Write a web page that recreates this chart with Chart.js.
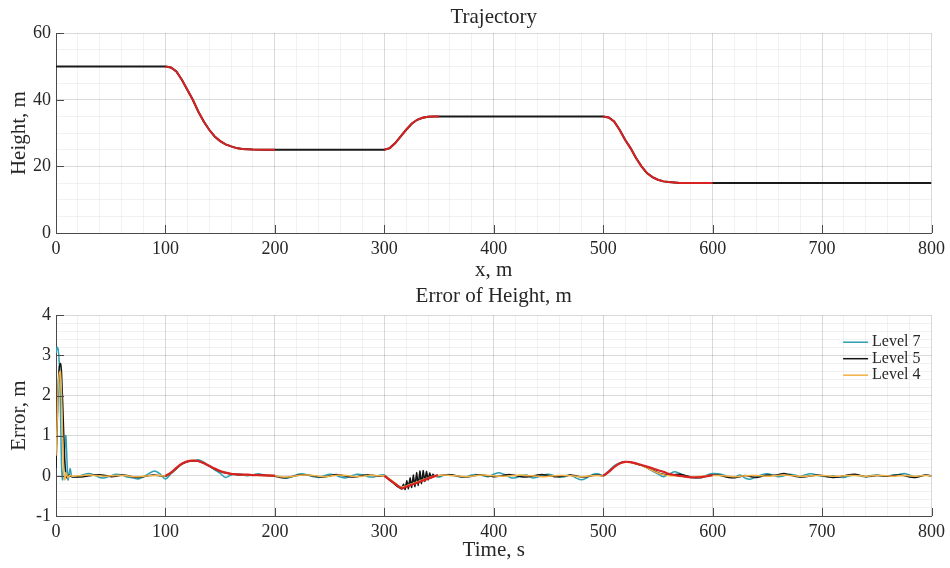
<!DOCTYPE html>
<html>
<head>
<meta charset="utf-8">
<script src="https://cdn.jsdelivr.net/npm/chart.js@4.4.1/dist/chart.umd.min.js"></script>
<style>
  body { margin: 0; background: #fff; }
  .box { position: relative; width: 950px; }
  #topBox { height: 283px; }
  #bottomBox { height: 285px; }
</style>
</head>
<body>
<div class="box" id="topBox"><canvas id="trajectoryChart"></canvas></div>
<div class="box" id="bottomBox"><canvas id="errorChart"></canvas></div>
<script>
// ---- trajectory (x, m -> height, m) ----
const flatStartX = [0, 100], flatStartY = [50, 50];
const drop1X = [100, 105, 110, 115, 120, 125, 130, 135, 140, 145, 150, 155, 160, 165, 170, 180, 190, 200];
const drop1Y = [50, 49.7, 48.5, 46, 43, 40, 36.5, 33.5, 31, 29, 27.6, 26.6, 26, 25.5, 25.2, 25.05, 25, 25];
const rise2X = [300, 305, 310, 315, 320, 325, 330, 335, 340, 345, 350];
const rise2Y = [25, 25.5, 27, 29, 31, 32.8, 34, 34.6, 34.9, 35, 35];
const drop3X = [500, 505, 510, 515, 520, 525, 530, 535, 540, 545, 550, 555, 560, 570, 580, 590, 600];
const drop3Y = [35, 34.7, 33.5, 31, 28, 25.5, 22.5, 20, 18, 16.8, 16, 15.5, 15.3, 15.05, 15, 15, 15];
const flatEndX = [800], flatEndY = [15];

// ---- height error (time, s -> error, m) ----
const errTime = [
  0, 1, 2, 3, 4, 5, 6, 7, 8, 9, 10, 11, 12, 13, 14, 15,
  20, 25, 30, 35, 40, 45, 50, 55, 60, 65, 70, 75, 80, 85, 90, 95, 100,
  105, 110, 115, 120, 125, 130, 135, 140, 145, 150, 155, 160, 165, 170, 175, 180, 185, 190, 195, 200,
  205, 210, 215, 220, 225, 230, 235, 240, 245, 250, 255, 260, 265, 270, 275, 280, 285, 290, 295, 300,
  305, 310, 315, 320, 325, 330, 335, 340, 345, 350,
  355, 360, 365, 370, 375, 380, 385, 390, 395, 400, 405, 410, 415, 420, 425, 430, 435, 440, 445, 450,
  455, 460, 465, 470, 475, 480, 485, 490, 495, 500,
  505, 510, 515, 520, 525, 530, 535, 540, 545, 550, 555, 560, 565, 570, 575, 580, 585, 590, 595, 600,
  605, 610, 615, 620, 625, 630, 635, 640, 645, 650, 655, 660, 665, 670, 675, 680, 685, 690, 695, 700,
  705, 710, 715, 720, 725, 730, 735, 740, 745, 750, 755, 760, 765, 770, 775, 780, 785, 790, 795, 800
];

const level7Err = [
  3.05, 3.2, 3.15, 2.8, 1.8, 0.3, -0.1, 0.2, 0.7, 1.0, 0.4, -0.1, 0.05, 0.18, 0.02, -0.02,
  -0.02, 0.03, 0.06, 0.02, -0.04, -0.05, 0.0, 0.04, 0.02, -0.03, -0.05, -0.08, -0.02, 0.06, 0.12, 0.05, -0.08,
  0.05, 0.18, 0.3, 0.36, 0.37, 0.4, 0.34, 0.24, 0.15, 0.06, -0.04, 0.02, 0.05, 0.04, 0.0, 0.03, 0.05, 0.02, 0.0, 0.01,
  -0.03, -0.06, -0.03, 0.03, 0.05, 0.02, -0.02, -0.04, 0.0, 0.04, 0.02, -0.03, -0.05, 0.0, 0.04, 0.03, -0.02, -0.03, 0.01, 0.02,
  -0.1, -0.2, -0.27, -0.22, -0.15, -0.1, -0.05, -0.02, 0.0, -0.03,
  0.02, 0.03, 0.0, -0.03, -0.02, 0.02, 0.03, 0.0, -0.02, 0.04, 0.08, 0.03, -0.04, -0.05, 0.0, 0.02, -0.05, -0.03, 0.02, 0.04,
  0.01, -0.03, -0.02, 0.02, -0.05, -0.1, -0.05, 0.03, 0.05, 0.01,
  0.12, 0.25, 0.32, 0.35, 0.34, 0.3, 0.26, 0.2, 0.12, 0.05, -0.02, 0.04, 0.1, 0.06, 0.0, -0.04, -0.06, -0.05, 0.02, 0.06,
  0.05, 0.02, -0.03, -0.04, 0.02, -0.06, -0.08, -0.02, 0.03, 0.05, 0.02, -0.02, 0.0, 0.04, 0.02, -0.02, 0.03, 0.05, 0.02, -0.01,
  -0.02, 0.0, -0.03, -0.04, 0.0, 0.02, 0.0, -0.02, 0.01, 0.02, 0.0, -0.01, 0.02, 0.03, 0.06, 0.02, -0.02, 0.0, 0.02, 0.0
];

// level 5 skips 305..345 of errTime; that stretch is in zigTime / zigErr
const level5Err = [
  0.2, 1.2, 2.2, 2.7, 2.8, 2.6, 1.9, 1.1, 0.4, 0.05, -0.05, -0.02, 0.02, 0.0, -0.02, -0.03,
  -0.03, -0.02, 0.0, 0.02, 0.03, 0.01, -0.02, -0.01, 0.02, 0.01, -0.03, -0.04, -0.02, 0.01, 0.02, 0.0, -0.01,
  0.06, 0.18, 0.29, 0.35, 0.37, 0.36, 0.31, 0.24, 0.17, 0.11, 0.07, 0.05, 0.03, 0.02, 0.02, 0.02, 0.03, 0.02, 0.0, -0.01,
  -0.04, -0.05, -0.02, 0.01, 0.03, 0.02, 0.0, -0.02, -0.03, 0.0, 0.03, 0.02, -0.01, -0.03, -0.02, 0.01, 0.03, 0.01, -0.01, 0.0,
  0.0,
  0.02, 0.03, 0.01, -0.02, -0.03, -0.01, 0.02, 0.02, 0.0, -0.02, -0.01, 0.02, 0.03, 0.01, -0.02, -0.03, -0.01, 0.02, 0.03, 0.01,
  -0.02, -0.02, 0.0, 0.02, 0.0, -0.03, -0.02, 0.01, 0.02, 0.0,
  0.1, 0.22, 0.31, 0.35, 0.34, 0.3, 0.26, 0.2, 0.14, 0.08, 0.04, 0.02, 0.03, 0.04, 0.01, -0.02, -0.03, -0.02, 0.0, 0.02,
  0.02, -0.01, -0.04, -0.05, -0.02, 0.01, -0.02, -0.04, -0.01, 0.02, 0.01, 0.03, 0.06, 0.03, -0.01, -0.03, -0.02, 0.0, 0.02, 0.01,
  -0.02, -0.04, -0.03, 0.0, 0.03, 0.04, 0.01, -0.02, -0.01, 0.01, 0.0, -0.01, 0.01, 0.02, 0.01, -0.03, -0.04, -0.01, 0.02, 0.0
];
const zigTime = [302, 304, 306, 308, 310, 312, 314, 316, 317.5, 319, 320.5, 322, 323.5, 325, 326.5, 328, 329.5,
  331, 332.5, 334, 335.5, 337, 338.5, 340, 341.5, 343, 344.5, 346, 348];
const zigErr = [-0.04, -0.09, -0.13, -0.17, -0.22, -0.27, -0.3, -0.33, -0.2, -0.34, -0.12, -0.32, -0.05, -0.29, 0.02, -0.27, 0.08,
  -0.24, 0.12, -0.2, 0.13, -0.14, 0.11, -0.1, 0.07, -0.05, 0.04, -0.01, 0.01];

const level4Err = [
  0.5, 1.3, 2.2, 2.55, 2.6, 2.1, 1.0, 0.1, -0.1, 0.08, 0.0, -0.05, 0.0, 0.01, 0.0, -0.01,
  0.0, 0.01, 0.02, 0.01, 0.0, -0.01, 0.0, 0.01, 0.01, 0.0, -0.02, -0.02, -0.01, 0.0, 0.01, 0.01, 0.0,
  0.07, 0.19, 0.3, 0.36, 0.38, 0.37, 0.32, 0.25, 0.18, 0.12, 0.08, 0.05, 0.04, 0.03, 0.02, 0.02, 0.01, 0.01, 0.0, 0.0,
  -0.02, -0.03, -0.02, 0.0, 0.02, 0.02, 0.01, -0.01, -0.02, -0.01, 0.01, 0.02, 0.01, -0.01, -0.02, -0.01, 0.01, 0.01, 0.0, 0.0,
  -0.08, -0.18, -0.28, -0.25, -0.2, -0.15, -0.1, -0.05, -0.01, 0.01,
  0.02, 0.01, 0.0, -0.01, -0.02, -0.01, 0.01, 0.02, 0.01, 0.0, -0.01, -0.01, 0.0, 0.01, 0.02, 0.01, 0.0, -0.01, -0.02, -0.01,
  0.0, 0.01, 0.01, 0.0, -0.01, -0.02, -0.01, 0.0, 0.01, 0.0,
  0.1, 0.22, 0.31, 0.34, 0.33, 0.3, 0.26, 0.2, 0.13, 0.07, 0.03, 0.01, 0.0, -0.01, -0.02, -0.03, -0.02, -0.01, 0.0, 0.01,
  0.01, 0.0, -0.01, -0.02, -0.01, 0.0, 0.01, 0.01, 0.0, -0.01, 0.0, 0.01, 0.02, 0.01, 0.0, -0.01, -0.01, 0.0, 0.01, 0.01,
  0.0, -0.01, -0.01, 0.0, 0.01, 0.01, 0.0, -0.01, 0.0, 0.01, 0.01, 0.0, -0.01, 0.0, 0.01, 0.0, -0.01, 0.0, 0.01, 0.0
];

// red reference error during the height changes
const redT1 = [100, 105, 110, 115, 120, 125, 130, 135, 140, 145, 150, 155, 160, 165, 170, 175, 180, 185, 190, 195, 200];
const redE1 = [0, 0.08, 0.2, 0.3, 0.36, 0.38, 0.37, 0.32, 0.25, 0.18, 0.12, 0.08, 0.05, 0.04, 0.03, 0.03, 0.02, 0.02, 0.01, 0.01, 0.0];
const redT2 = [300, 305, 310, 316, 320, 325, 330, 335, 340, 345, 349];
const redE2 = [0, -0.1, -0.2, -0.31, -0.27, -0.22, -0.17, -0.12, -0.07, -0.02, 0.02];
const redT3 = [500, 505, 510, 515, 520, 525, 530, 535, 540, 545, 550, 555, 560, 565, 570, 575, 580, 585, 590, 595, 600];
const redE3 = [0, 0.1, 0.22, 0.31, 0.35, 0.34, 0.31, 0.27, 0.23, 0.19, 0.14, 0.1, 0.05, 0.02, 0, -0.02, -0.04, -0.04, -0.03, -0.01, 0.02];

const serif = '"Liberation Serif", "Times New Roman", serif';
const textColor = '#262626';
const red = '#d62222';
Chart.defaults.font.family = serif;
Chart.defaults.color = textColor;
Chart.defaults.animation = false;

const pts = (xs, ys) => xs.map((x, i) => ({x: x, y: ys[i]}));

function isMajor(v, step) {
  const r = v / step;
  return Math.abs(r - Math.round(r)) < 1e-6;
}

// matlab-ish axes: light major/minor grid, inward tick marks
function scale(min, max, minor, major, title, titlePad, fit) {
  return {
    type: 'linear', min: min, max: max,
    ticks: {
      stepSize: minor, autoSkip: false, maxRotation: 0, minRotation: 0, padding: 5,
      font: {size: 18}, color: textColor,
      callback: v => isMajor(v, major) ? String(Math.round(v)) : ''
    },
    grid: {
      drawTicks: false, lineWidth: 1,
      color: ctx => isMajor(ctx.tick.value, major) ? 'rgba(0,0,0,0.15)' : 'rgba(0,0,0,0.05)'
    },
    border: {color: '#4a4a4a', width: 1},
    title: {display: true, text: title, font: {size: 21}, color: textColor, padding: titlePad},
    afterFit: fit
  };
}

const innerTicks = {
  id: 'innerTicks',
  afterDraw(chart, args, opts) {
    const {ctx, chartArea: a, scales: {x, y}} = chart;
    ctx.save();
    ctx.strokeStyle = '#4a4a4a';
    ctx.lineWidth = 1;
    ctx.beginPath();
    x.ticks.forEach(t => {
      if (!isMajor(t.value, opts.xStep)) return;
      const px = Math.round(x.getPixelForValue(t.value)) + 0.5;
      ctx.moveTo(px, a.bottom);
      ctx.lineTo(px, a.bottom - 8);
    });
    y.ticks.forEach(t => {
      if (!isMajor(t.value, opts.yStep)) return;
      const py = Math.round(y.getPixelForValue(t.value)) + 0.5;
      ctx.moveTo(a.left, py);
      ctx.lineTo(a.left + 8, py);
    });
    ctx.stroke();
    ctx.restore();
  }
};

// legend box drawn inside the plot, top right
const insideLegend = {
  id: 'insideLegend',
  afterDraw(chart) {
    const items = chart.data.datasets.filter(d => d.label);
    if (!items.length) return;
    const {ctx, chartArea: a} = chart;
    ctx.save();
    ctx.font = '16px ' + serif;
    const w = Math.max(...items.map(d => ctx.measureText(d.label).width));
    const textX = a.right - 11 - w;
    items.forEach((d, i) => {
      const yy = a.top + 27 + i * 16.5;
      ctx.strokeStyle = d.borderColor;
      ctx.lineWidth = 1.5;
      ctx.beginPath();
      ctx.moveTo(textX - 29, yy);
      ctx.lineTo(textX - 4, yy);
      ctx.stroke();
      ctx.fillStyle = textColor;
      ctx.textBaseline = 'middle';
      ctx.textAlign = 'left';
      ctx.fillText(d.label, textX, yy);
    });
    ctx.restore();
  }
};

const pathPts = [].concat(
  pts(flatStartX, flatStartY), pts(drop1X, drop1Y), pts(rise2X, rise2Y),
  pts(drop3X, drop3Y), pts(flatEndX, flatEndY));

new Chart(document.getElementById('trajectoryChart'), {
  type: 'line',
  data: {
    datasets: [
      {data: pts(drop1X, drop1Y), borderColor: red, borderWidth: 2, pointRadius: 0, order: 0},
      {data: pts(rise2X, rise2Y), borderColor: red, borderWidth: 2, pointRadius: 0, order: 0},
      {data: pts(drop3X, drop3Y), borderColor: red, borderWidth: 2, pointRadius: 0, order: 0},
      {data: pathPts, borderColor: '#1a1a1a', borderWidth: 2, pointRadius: 0, order: 1}
    ]
  },
  options: {
    responsive: true,
    maintainAspectRatio: false,
    layout: {padding: {left: 0, right: 18, top: 0, bottom: 0}},
    plugins: {
      legend: {display: false},
      tooltip: {enabled: false},
      title: {
        display: true, text: 'Trajectory', fullSize: false, color: textColor,
        font: {size: 21, weight: 'normal'}, padding: {top: 5, bottom: 3}
      },
      innerTicks: {xStep: 100, yStep: 20}
    },
    scales: {
      x: scale(0, 800, 20, 100, 'x, m', {top: 0, bottom: 0}, s => { s.height = 50; }),
      y: scale(0, 60, 5, 20, 'Height, m', {top: 7, bottom: 0}, s => { s.width = 56; })
    }
  },
  plugins: [innerTicks]
});

const baseTime5 = errTime.filter(t => t <= 300 || t >= 350);
const level5Pts = pts(baseTime5, level5Err).concat(pts(zigTime, zigErr)).sort((p, q) => p.x - q.x);

new Chart(document.getElementById('errorChart'), {
  type: 'line',
  data: {
    datasets: [
      {label: 'Level 7', data: pts(errTime, level7Err), borderColor: '#2e9fb2', borderWidth: 1.5,
        pointRadius: 0, tension: 0.3, order: 3},
      {label: 'Level 5', data: level5Pts, borderColor: '#141414', borderWidth: 1.5,
        pointRadius: 0, tension: 0.1, order: 2},
      {label: 'Level 4', data: pts(errTime, level4Err), borderColor: '#f2b144', borderWidth: 1.5,
        pointRadius: 0, tension: 0.3, order: 1},
      {data: pts(redT1, redE1), borderColor: red, borderWidth: 2.2, pointRadius: 0, tension: 0.3, order: 0},
      {data: pts(redT2, redE2), borderColor: red, borderWidth: 2.2, pointRadius: 0, tension: 0.3, order: 0},
      {data: pts(redT3, redE3), borderColor: red, borderWidth: 2.2, pointRadius: 0, tension: 0.3, order: 0}
    ]
  },
  options: {
    responsive: true,
    maintainAspectRatio: false,
    layout: {padding: {left: 0, right: 18, top: 0, bottom: 0}},
    plugins: {
      legend: {display: false},
      tooltip: {enabled: false},
      title: {
        display: true, text: 'Error of Height, m', fullSize: false, color: textColor,
        font: {size: 21, weight: 'normal'}, padding: {top: 1, bottom: 6}
      },
      innerTicks: {xStep: 100, yStep: 1}
    },
    scales: {
      x: scale(0, 800, 20, 100, 'Time, s', {top: 0, bottom: 5}, s => { s.height = 52; }),
      y: scale(-1, 4, 0.2, 1, 'Error, m', {top: 7, bottom: 0}, s => { s.width = 56; })
    }
  },
  plugins: [innerTicks, insideLegend]
});
</script>
</body>
</html>
